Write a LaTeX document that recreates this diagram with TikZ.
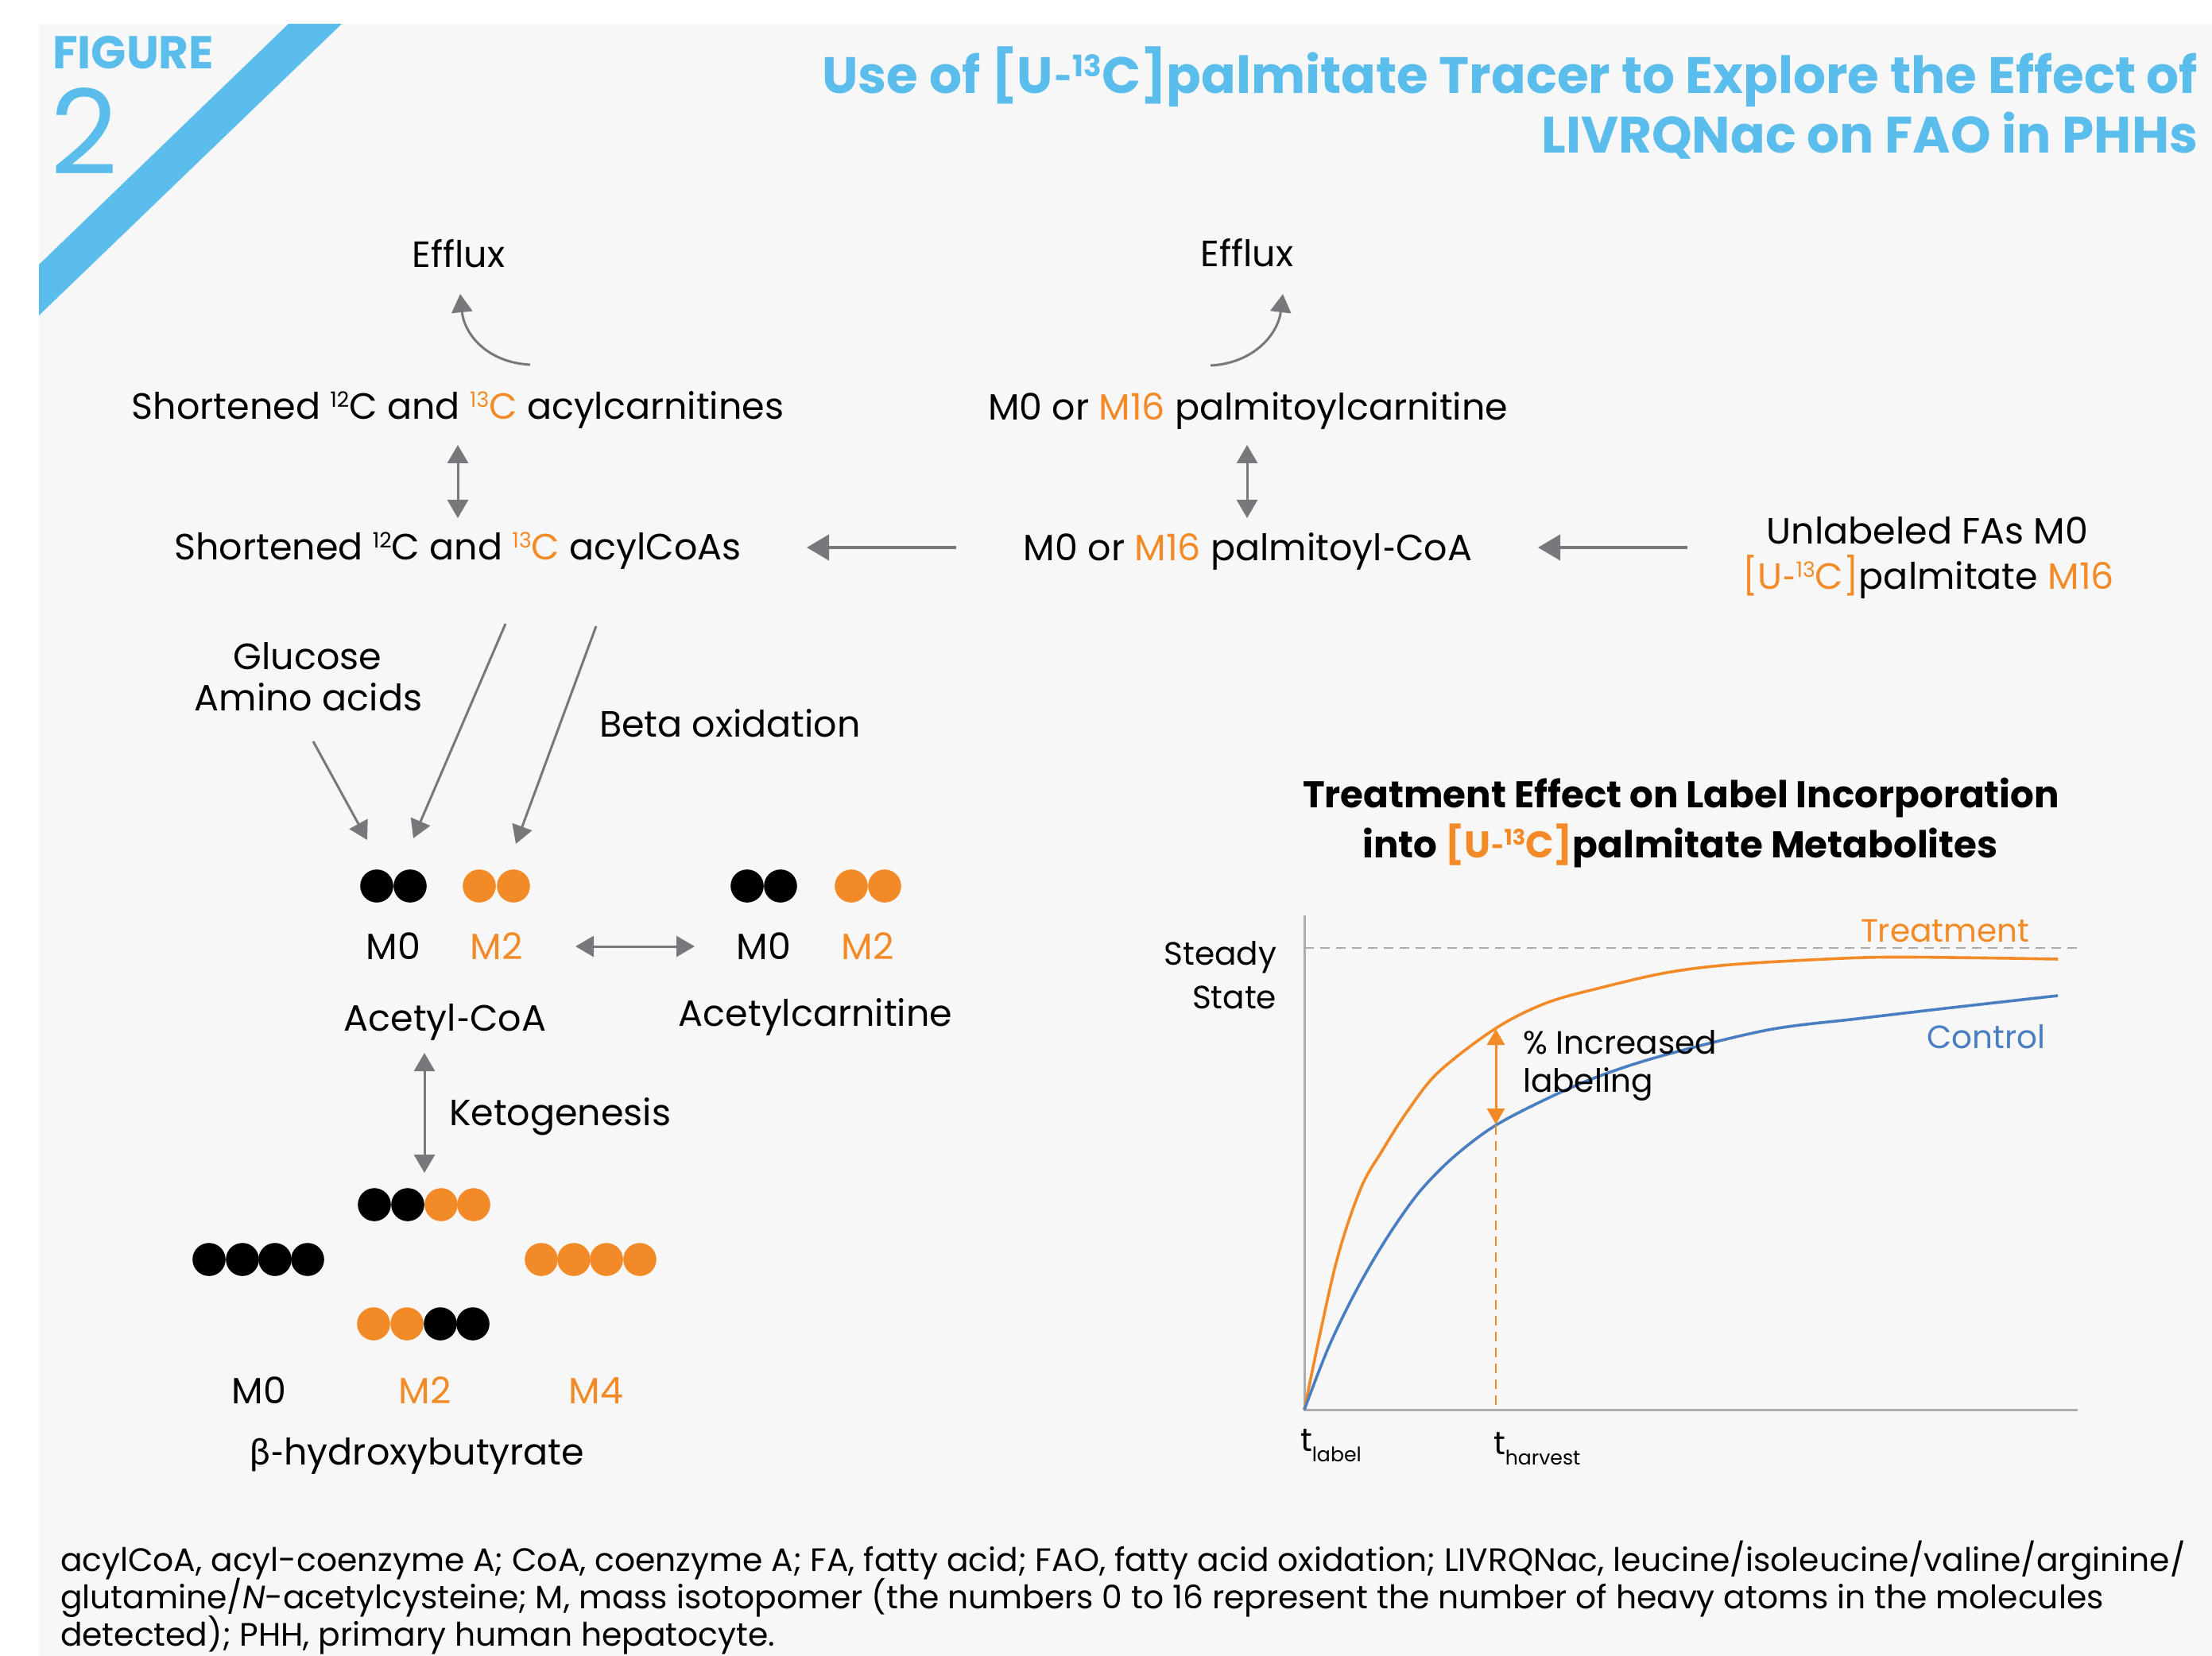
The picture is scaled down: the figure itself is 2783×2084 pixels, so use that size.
\documentclass[tikz,border=0pt]{standalone}
\usepackage{fontspec}
\setmainfont{Poppins}
\newfontfamily\latofont{Lato}
\usepackage{graphicx}
\usetikzlibrary{arrows.meta}
\definecolor{figblue}{HTML}{5BBDEC}
\definecolor{orng}{HTML}{F28B27}
\definecolor{ctrlblue}{HTML}{4A7EC2}
\definecolor{arrgray}{HTML}{77787B}
\definecolor{bggray}{HTML}{F7F7F7}
\definecolor{axgray}{HTML}{ABABAB}
\newcommand\setfs[1]{\fontsize{#1}{#1}\selectfont}
\newcommand\isup[1]{\raisebox{0.6ex}{\scalebox{0.58}{#1}}}
\newcommand\isub[1]{\raisebox{-0.6ex}{\scalebox{0.62}{#1}}}
\newcommand\org[1]{\textcolor{orng}{#1}}
\newcommand\shy{{\latofont -}}
\begin{document}
\begin{tikzpicture}[x=0.25pt,y=-0.25pt,
  every node/.style={inner sep=0pt,outer sep=0pt},
  lab/.style={font=\setfs{11.5}, anchor=base},
  glab/.style={font=\setfs{10.15}, anchor=base west},
  tip/.style={-{Triangle[length=5.75pt,width=6.5pt]}},
  dtip/.style={{Triangle[length=5.75pt,width=6.5pt]}-{Triangle[length=5.75pt,width=6.5pt]}},
  bigtip/.style={-{Triangle[length=7pt,width=8pt]}},
  otip/.style={{Triangle[length=5pt,width=5.5pt]}-{Triangle[length=5pt,width=5.5pt]}},
  conn/.style={color=arrgray,line width=0.75pt},
  gdash/.style={dash pattern=on 3pt off 2pt}
]
\useasboundingbox (0,0) rectangle (2783,2084);
\fill[white] (0,0) rectangle (2783,2084);
\fill[bggray] (49,30) rectangle (2783,2084);
\fill[figblue] (363,30) -- (430,30) -- (49,397) -- (49,333) -- cycle;

% header
\node[anchor=base west, font=\bfseries\setfs{14.5}, text=figblue] (figlbl) at (66,87) {FIGURE};
\node[anchor=base west, font=\setfs{37}, text=figblue] (fignum) at (64,220) {2};
\node[anchor=base east, font=\bfseries\setfs{16.1}, text=figblue] (title1) at (2765,118) {Use of [U\shy\isup{13}C]palmitate Tracer to Explore the Effect of};
\node[anchor=base east, font=\bfseries\setfs{16.1}, text=figblue] (title2) at (2765,193) {LIVRQNac on FAO in PHHs};

% pathway labels
\node[lab] (effL) at (577,337) {Efflux};
\node[lab] (effR) at (1569,336) {Efflux};
\node[lab] (acar) at (576,528) {Shortened \isup{12}C and \org{\isup{13}C} acylcarnitines};
\node[lab] (pcar) at (1570,529) {M0 or \org{M16} palmitoylcarnitine};
\node[lab] (acoa) at (576,705) {Shortened \isup{12}C and \org{\isup{13}C} acylCoAs};
\node[lab] (pcoa) at (1570,706) {M0 or \org{M16} palmitoyl\shy CoA};
\node[lab] (unl) at (2425,685) {Unlabeled FAs M0};
\node[lab] (u13) at (2426,742) {\org{[U\shy\isup{13}C]}palmitate \org{M16}};
\node[lab] (gluc) at (387,843) {Glucose};
\node[lab] (amino) at (388,895) {Amino acids};
\node[lab, anchor=base west] (beta) at (754,928) {Beta oxidation};
\node[lab] (m0a) at (495,1207) {M0};
\node[lab, text=orng] (m2a) at (625,1207) {M2};
\node[lab] (m0c) at (961,1207) {M0};
\node[lab, text=orng] (m2c) at (1092,1207) {M2};
\node[lab] (acoaA) at (560,1297) {Acetyl\shy CoA};
\node[lab] (acarA) at (1026,1291) {Acetylcarnitine};
\node[lab, anchor=base west] (keto) at (565,1416) {Ketogenesis};
\node[lab] (bm0) at (326,1766) {M0};
\node[lab, text=orng] (bm2) at (535,1766) {M2};
\node[lab, text=orng] (bm4) at (750,1766) {M4};
\node[lab] (bhb) at (525,1843) {{\latofont β-}hydroxybutyrate};

% connectors
\coordinate (a1s) at (667,459); \coordinate (a1e) at (579,370);
\draw[conn,tip] (a1s) .. controls (612,456) and (584,420) .. (a1e);
\coordinate (a2s) at (1523,460); \coordinate (a2e) at (1614,370);
\draw[conn,tip] (a2s) .. controls (1578,457) and (1608,420) .. (a2e);
\coordinate (d1a) at (576,560); \coordinate (d1b) at (576,652);
\draw[conn,dtip] (d1a) -- (d1b);
\coordinate (d2a) at (1569,560); \coordinate (d2b) at (1569,652);
\draw[conn,dtip] (d2a) -- (d2b);
\coordinate (h1s) at (2123,689); \coordinate (h1e) at (1935,689);
\draw[conn,line width=1pt,bigtip] (h1s) -- (h1e);
\coordinate (h2s) at (1203,689); \coordinate (h2e) at (1015,689);
\draw[conn,line width=1pt,bigtip] (h2s) -- (h2e);
\coordinate (g1s) at (394,933); \coordinate (g1e) at (462,1057);
\draw[conn,tip] (g1s) -- (g1e);
\coordinate (b1s) at (636,785); \coordinate (b1e) at (520,1055);
\draw[conn,tip] (b1s) -- (b1e);
\coordinate (b2s) at (750,788); \coordinate (b2e) at (649,1062);
\draw[conn,tip] (b2s) -- (b2e);
\coordinate (ac1) at (724,1191); \coordinate (ac2) at (874,1191);
\draw[conn,dtip] (ac1) -- (ac2);
\coordinate (k1) at (534,1325); \coordinate (k2) at (534,1476);
\draw[conn,dtip] (k1) -- (k2);

% dots
\foreach \x in {474,516,940,982} \fill[black] (\x,1115) circle[radius=5.2pt];
\foreach \x in {603,646,1071,1113} \fill[orng] (\x,1115) circle[radius=5.2pt];
\foreach \x in {471,513} \fill[black] (\x,1516) circle[radius=5.2pt];
\foreach \x in {555,596} \fill[orng] (\x,1516) circle[radius=5.2pt];
\foreach \x in {263,305,346,387} \fill[black] (\x,1585) circle[radius=5.2pt];
\foreach \x in {681,722,763,805} \fill[orng] (\x,1585) circle[radius=5.2pt];
\foreach \x in {470,512} \fill[orng] (\x,1666) circle[radius=5.2pt];
\foreach \x in {554,595} \fill[black] (\x,1666) circle[radius=5.2pt];

% graph
\node[font=\bfseries\setfs{11.7}, anchor=base] (gt1) at (2115,1017) {Treatment Effect on Label Incorporation};
\node[font=\bfseries\setfs{11.7}, anchor=base] (gt2) at (2114,1079) {into \org{[U\shy\isup{13}C]}palmitate Metabolites};
\node[glab, anchor=base east] (steady) at (1606,1214) {Steady};
\node[glab, anchor=base east] (state) at (1606,1269) {State};
\coordinate (O) at (1641,1774); \coordinate (ytop) at (1641,1152); \coordinate (xend) at (2614,1774);
\coordinate (ss1) at (1641,1193); \coordinate (ss2) at (2614,1193);
\draw[axgray, line width=0.6pt, gdash] (ss1) -- (ss2);
\draw[axgray, line width=0.75pt] (ytop) -- (O) -- (xend);
\draw[orng, line width=0.9pt] plot[smooth, tension=0.55] coordinates {(1641,1774) (1679,1597) (1711,1498) (1739,1448) (1771,1398) (1810,1349) (1882,1294) (1946,1262) (2018,1242) (2097,1224) (2177,1214) (2297,1207) (2376,1204.5) (2496,1205.5) (2589,1207)};
\draw[ctrlblue, line width=0.9pt] plot[smooth, tension=0.55] coordinates {(1641,1774) (1670,1699) (1700,1636) (1730,1582) (1760,1535) (1790,1495) (1830,1455) (1882,1416) (1954,1379) (2018,1352) (2097,1327) (2225,1296) (2337,1282) (2456,1268) (2589,1253)};
\coordinate (hv1) at (1882,1416); \coordinate (hv2) at (1882,1774);
\draw[orng, line width=0.6pt, gdash] (hv1) -- (hv2);
\coordinate (oa1) at (1882,1295); \coordinate (oa2) at (1882,1415);
\draw[orng, line width=0.75pt, otip] (oa1) -- (oa2);
\node[glab] (incr) at (1916,1326) {\% Increased};
\node[glab] (lblg) at (1916,1374) {labeling};
\node[glab, text=orng] (treat) at (2341,1185) {Treatment};
\node[glab, text=ctrlblue] (ctrl) at (2424,1319) {Control};
\node[glab] (tl) at (1636,1826) {t\isub{label}};
\node[glab] (th) at (1879,1830) {t\isub{harvest}};

% footnote
\node[font=\setfs{10.2}, anchor=base west] (fn1) at (76,1977) {acylCoA, acyl-coenzyme A; CoA, coenzyme A; FA, fatty acid; FAO, fatty acid oxidation; LIVRQNac, leucine/isoleucine/valine/arginine/};
\node[font=\setfs{10.2}, anchor=base west] (fn2) at (76,2024) {glutamine/\textit{N}-acetylcysteine; M, mass isotopomer (the numbers 0 to 16 represent the number of heavy atoms in the molecules};
\node[font=\setfs{10.2}, anchor=base west] (fn3) at (76,2071) {detected); PHH, primary human hepatocyte.};
\end{tikzpicture}
\end{document}
